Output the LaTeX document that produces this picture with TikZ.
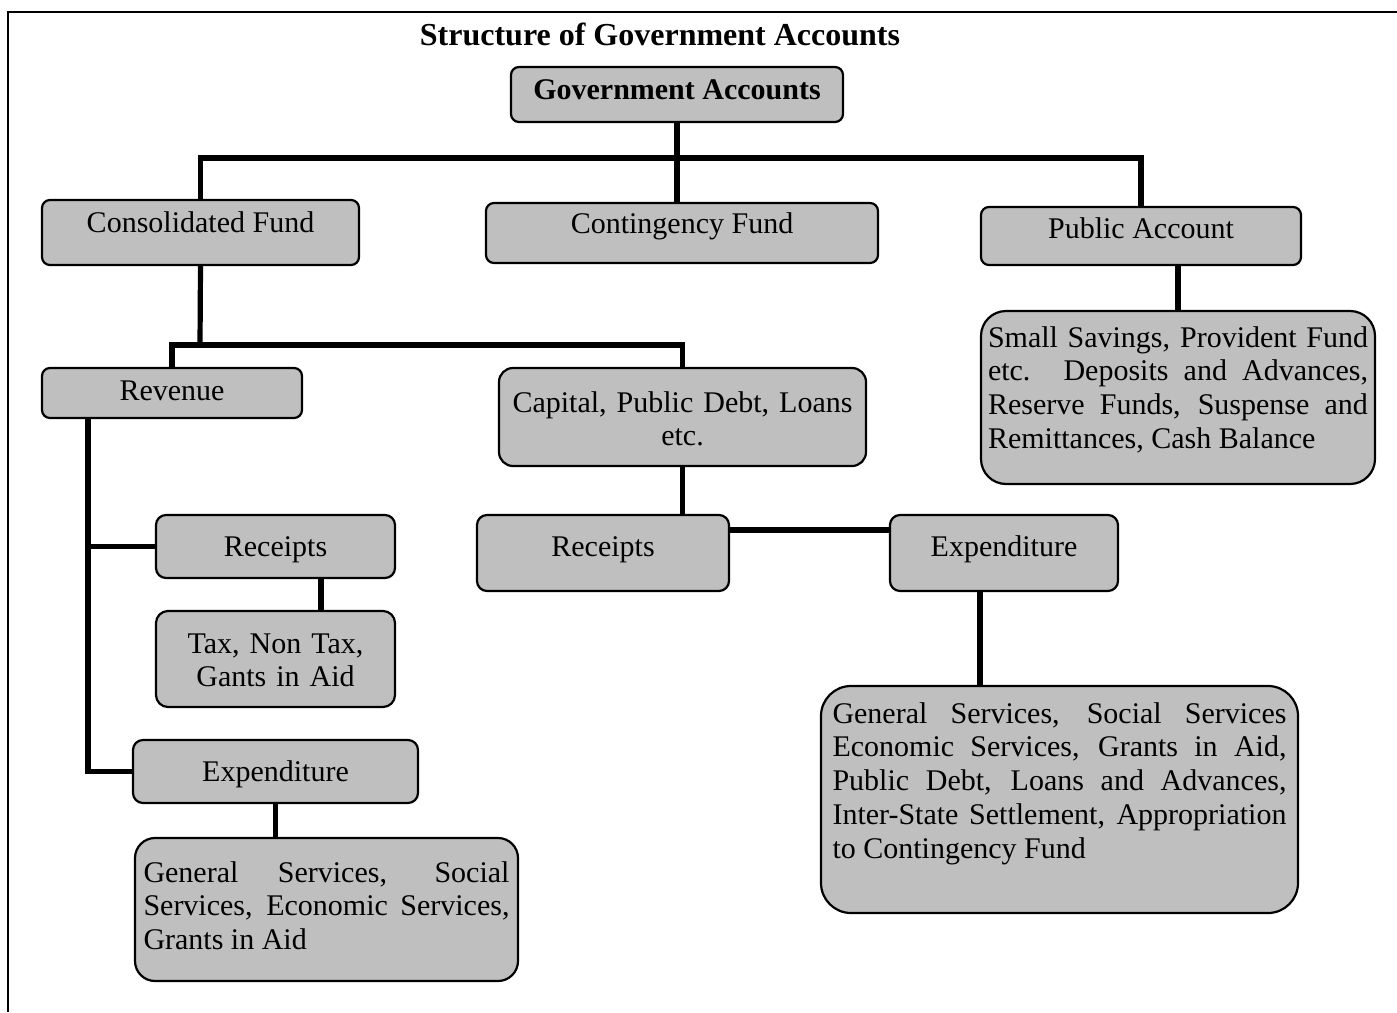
\documentclass[tikz,border=0pt]{standalone}
\usepackage{fontspec}
\setmainfont{Liberation Serif}
\tolerance=10000 \hyphenpenalty=10000 \exhyphenpenalty=10000
\begin{document}
\begin{tikzpicture}[x=0.5pt,y=-0.5pt,
  box/.style={draw=black, line width=1.1pt, fill=black!25, rounded corners=4pt,
    inner sep=0pt, align=center, font=\fontsize{15}{16.9}\selectfont},
  conn/.style={line width=2.6pt},
  frame/.style={line width=1pt}]
\useasboundingbox (0,0) rectangle (1397,1012);
\draw[frame] (1397,12) -- (8,12) -- (8,1012);

\node[anchor=base, font=\fontsize{16}{18}\selectfont\bfseries] (title) at (660,45) {Structure of Government Accounts};

\node[box, minimum width=166pt, minimum height=27.5pt, text height=12.25pt, text depth=7.75pt,
  font=\fontsize{15}{16.9}\selectfont\bfseries] (gov) at (677,94.5) {Government Accounts};

\node[box, minimum width=158.5pt, minimum height=32.5pt, text height=9.75pt, text depth=10.25pt] (cons) at (200.5,232.5) {Consolidated Fund};
\node[box, minimum width=196pt, minimum height=30pt, text height=10pt, text depth=10pt] (cont) at (682,233) {Contingency Fund};
\node[box, minimum width=160pt, minimum height=29pt, text height=11pt, text depth=9pt] (pub) at (1141,236) {Public Account};

\node[box, rounded corners=12.5pt, minimum width=197pt, minimum height=86.5pt, text width=190pt, align=justify,
  text height=14.75pt, text depth=65.25pt] (pubd) at (1178,397.5)
  {Small Savings, Provident Fund\linebreak etc. Deposits and Advances,\linebreak Reserve Funds, Suspense and\linebreak Remittances, Cash Balance};

\node[box, minimum width=130pt, minimum height=25pt, text height=13.5pt, text depth=6.5pt] (rev) at (172,393) {Revenue};
\node[box, rounded corners=7pt, minimum width=183.5pt, minimum height=49pt, text width=175pt,
  text height=17.5pt, text depth=22.5pt] (cap) at (682.5,417) {Capital, Public Debt, Loans\\ etc.};

\node[box, rounded corners=5pt, minimum width=119.5pt, minimum height=31.5pt, text height=14.75pt, text depth=5.25pt] (recL) at (275.5,546.5) {Receipts};
\node[box, rounded corners=6pt, minimum width=119.5pt, minimum height=48pt, text width=110pt,
  text height=17pt, text depth=23pt] (tax) at (275.5,659) {Tax, Non Tax,\\ Gants in Aid};
\node[box, rounded corners=5pt, minimum width=142.5pt, minimum height=31.5pt, text height=14.75pt, text depth=5.25pt] (expL) at (275.5,771.5) {Expenditure};
\node[box, rounded corners=10pt, minimum width=191.5pt, minimum height=71.5pt, text width=183pt, align=justify,
  text height=16.25pt, text depth=43.75pt] (genL) at (326.5,909.5)
  {General Services, Social\linebreak Services, Economic Services,\linebreak Grants in Aid};

\node[box, rounded corners=5pt, minimum width=126pt, minimum height=38pt, text height=11.5pt, text depth=8.5pt] (recM) at (603,553) {Receipts};
\node[box, rounded corners=5pt, minimum width=114pt, minimum height=38pt, text height=11.5pt, text depth=8.5pt] (expM) at (1004,553) {Expenditure};
\node[box, rounded corners=15pt, minimum width=238.5pt, minimum height=113.5pt, text width=227pt, align=justify,
  text height=11.75pt, text depth=88.25pt] (genR) at (1059.5,799.5)
  {General Services, Social Services\linebreak Economic Services, Grants in Aid,\linebreak Public Debt, Loans and Advances,\linebreak Inter-State Settlement, Appropriation\linebreak to Contingency Fund};

% connectors
\coordinate (bus) at (677,158);
\coordinate (bus2) at (200,345);
\coordinate (revtrunk) at (88,418);
\draw[conn] (gov.south) -- (gov.south |- cont.north);
\draw[conn] (cons.north) |- (bus) -| (pub.north);
\draw[conn] (cons.south) -- (bus2);
\draw[conn] (rev.north) |- (bus2) -| (cap.north);
\draw[conn] (pubd.north) -- (pubd.north |- pub.south);
\draw[conn] (revtrunk) |- (expL.west);
\draw[conn] (revtrunk |- recL.west) -- (recL.west);
\draw[conn] ([xshift=22.75pt]recL.south) -- ([xshift=22.75pt]recL.south |- tax.north);
\draw[conn] (expL.south) -- (expL.south |- genL.north);
\draw[conn] (cap.south) -- (cap.south |- recM.north);
\draw[conn] ([yshift=11.5pt]recM.east) -- ([yshift=11.5pt]recM.east -| expM.west);
\draw[conn] ([xshift=-12pt]expM.south) -- ([xshift=-12pt]expM.south |- genR.north);
\end{tikzpicture}
\end{document}
